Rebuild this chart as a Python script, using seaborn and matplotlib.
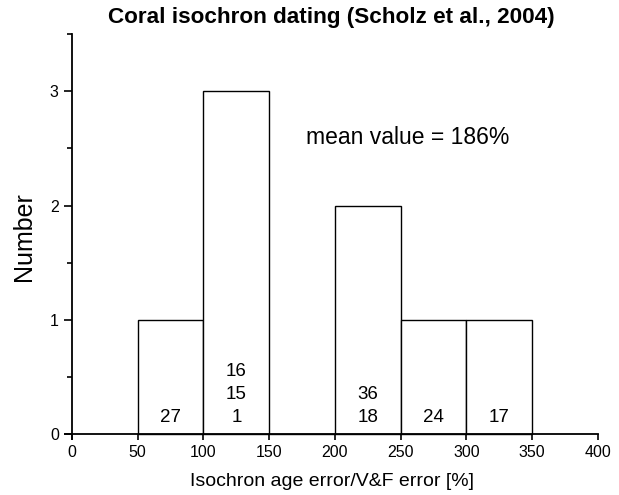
import numpy as np
import pandas as pd
import matplotlib
matplotlib.use("Agg")
import matplotlib.pyplot as plt
from matplotlib.ticker import MultipleLocator
import seaborn as sns

# histogram bins (isochron age error / V&F error, %) and counts
bin_edges = [50, 100, 150, 200, 250, 300, 350]
counts = [1, 3, 0, 2, 1, 1]
# sample numbers written inside each bin
bin_labels = ["27", "16\n15\n1", "", "36\n18", "24", "17"]
mean_value = 186

sns.set_style("ticks")
plt.rcParams['font.family'] = ['Liberation Sans', 'DejaVu Sans']
plt.rcParams['text.color'] = 'black'
plt.rcParams['axes.labelcolor'] = 'black'

edges = np.array(bin_edges, dtype=float)
mids = (edges[:-1] + edges[1:]) / 2
df = pd.DataFrame({"ratio": mids, "n": counts})

fig = plt.figure(figsize=(6.19, 4.95), dpi=100)
ax = fig.add_axes([0.1057, 0.1137, 0.8603, 0.8173])

sns.histplot(data=df, x="ratio", weights="n", bins=list(bin_edges), ax=ax,
             color="white", edgecolor="black", linewidth=1.0, alpha=1)

for x, lab in zip(mids, bin_labels):
    if lab:
        ax.text(x, 0.07, lab, ha="center", va="bottom", fontsize=13.5,
                linespacing=1.45)

ax.text(178, 2.6, f"mean value = {mean_value}%", fontsize=16.5, va="center")

ax.set_xlim(-5, 400)
ax.set_ylim(-0.04, 3.5)
ax.spines['left'].set_position(('data', 0))
ax.spines['bottom'].set_position(('data', 0))
sns.despine(ax=ax)
for s in ['left', 'bottom']:
    ax.spines[s].set_linewidth(1.3)
    ax.spines[s].set_color('black')

ax.xaxis.set_major_locator(MultipleLocator(50))
ax.yaxis.set_major_locator(MultipleLocator(1))
ax.yaxis.set_minor_locator(MultipleLocator(0.5))
ax.tick_params(axis='both', which='major', direction='out', width=1.2,
               labelsize=11.5, colors='black')
ax.tick_params(axis='x', which='major', length=4)
ax.tick_params(axis='y', which='major', length=6)
ax.tick_params(axis='y', which='minor', direction='out', length=3.5,
               width=1.2, colors='black')

ax.set_xlabel("Isochron age error/V&F error [%]", fontsize=14, labelpad=10)
ax.set_ylabel("Number", fontsize=18, labelpad=10)
ax.set_title("Coral isochron dating (Scholz et al., 2004)", fontsize=16.2,
             fontweight="bold", pad=8)

fig.savefig("out.png", dpi=100)
